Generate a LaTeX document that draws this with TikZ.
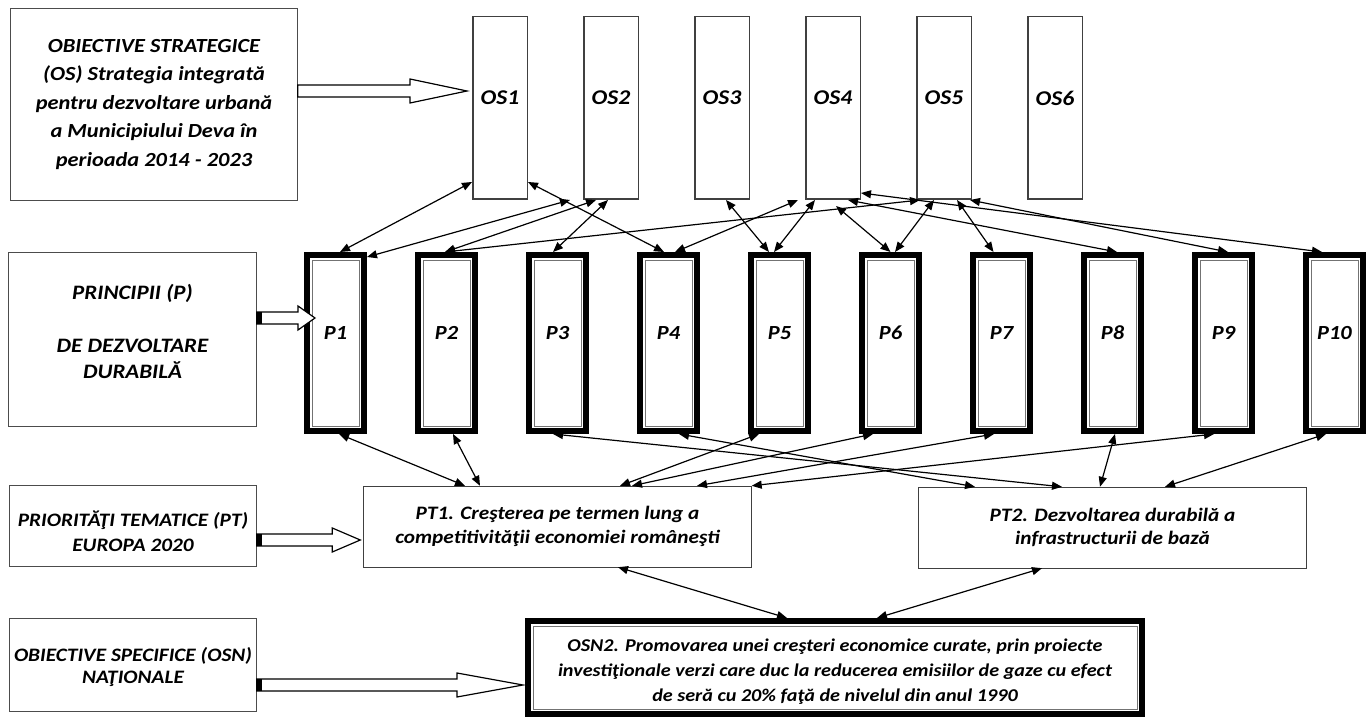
\documentclass[tikz,border=0pt]{standalone}
\usepackage{fontspec}
\setmainfont{Carlito}[FakeStretch=1.12]
\newcommand{\drawBlockArrow}[5]{\draw[blockarrow] ([xshift=#5]#2.west |- 0,#3) -- ++(-#4,-12) coordinate (h) -- ++(0,6) -- (#1.east |- 0,#3-6) -- ++(0,12) -- (h |- 0,#3+6) -- (h |- 0,#3+12) -- cycle;}
\newcommand{\drawArrowTail}[2]{\fill (#1.east |- 0,#2-6) rectangle ++(5,12);}
\newcommand{\drawInnerFrame}[1]{\draw[innerframe] ([shift={(8,8)}]#1.north west) rectangle ([shift={(-8,-8)}]#1.south east);}
\usetikzlibrary{arrows.meta, positioning}
\tikzset{>={Triangle[length=10pt,width=8pt]},
    node distance=111pt, line width=1.2pt,
    labelbox/.style={draw=black!70,align=center,font=\bfseries\itshape},
    osbox/.style={draw=black!75,line width=1.5pt,minimum width=54.5pt,minimum height=182.5pt,text depth=20pt,font=\bfseries\itshape\fontsize{21}{24}\selectfont},
    pbox/.style={draw,line width=6pt,minimum width=57pt,minimum height=176pt,text depth=20pt,font=\bfseries\itshape\fontsize{20}{24}\selectfont},
    ptbox/.style={draw=black!75,minimum width=388pt,minimum height=81pt,align=center,font=\bfseries\itshape\fontsize{19}{23.3}\selectfont},
    osnbox/.style={draw,line width=6pt,minimum width=614pt,minimum height=93pt,align=center,font=\bfseries\itshape\fontsize{18}{25}\selectfont},
    innerframe/.style={black!55,line width=0.8pt},
    link/.style={<->,line width=1.2pt},
    blockarrow/.style={draw,fill=white,line width=1.2pt}}
\begin{document}
\begin{tikzpicture}[x=1pt,y=-1pt]
\useasboundingbox (0,0) rectangle (1369,719);
% legend boxes on the left
\node[labelbox,minimum width=287pt,minimum height=192pt,font=\bfseries\itshape\fontsize{20}{28.5}\selectfont] (os) at (154,104.5)
    {OBIECTIVE STRATEGICE\\(OS) Strategia integrată\\pentru dezvoltare urbană\\a Municipiului Deva în\\perioada 2014 - 2023};
\node[labelbox,minimum width=248pt,minimum height=174pt,font=\bfseries\itshape\fontsize{20.5}{26.5}\selectfont] (p) at (132.5,339.5)
    {PRINCIPII (P)\\[26pt]DE DEZVOLTARE\\DURABILĂ\\[-10.5pt]\mbox{}};
\node[labelbox,minimum width=247pt,minimum height=81pt,font=\bfseries\itshape\fontsize{19}{25}\selectfont] (pt) at (133,526)
    {\mbox{}\\[2pt]PRIORITĂŢI TEMATICE (PT)\\EUROPA 2020};
\node[labelbox,minimum width=247pt,minimum height=93pt,font=\bfseries\itshape\fontsize{19}{22}\selectfont] (osn) at (133,665)
    {\mbox{}\\[-3pt]OBIECTIVE SPECIFICE (OSN)\\NAŢIONALE};
% strategic objectives
\node[osbox] (OS1) at (500,108) {OS1};
\node[osbox] (OS2) [right of=OS1] {OS2};
\node[osbox] (OS3) [right of=OS2] {OS3};
\node[osbox] (OS4) [right of=OS3] {OS4};
\node[osbox] (OS5) [right of=OS4] {OS5};
\node[osbox] (OS6) [right of=OS5] {OS6};
% principles
\node[pbox] (P1) at (335.5,343) {P1};
\node[pbox] (P2) [right of=P1] {P2};
\node[pbox] (P3) [right of=P2] {P3};
\node[pbox] (P4) [right of=P3] {P4};
\node[pbox] (P5) [right of=P4] {P5};
\node[pbox] (P6) [right of=P5] {P6};
\node[pbox] (P7) [right of=P6] {P7};
\node[pbox] (P8) [right of=P7] {P8};
\node[pbox] (P9) [right of=P8] {P9};
\node[pbox] (P10) [right of=P9] {P10};
\foreach \i in {1,...,10} {\drawInnerFrame{P\i}}
% thematic priorities and OSN2
\node[ptbox] (PT1) at (557.5,526.5) {PT1. Creşterea pe termen lung a\\competitivităţii economiei româneşti};
\node[ptbox] (PT2) at (1112.5,527.5) {PT2. Dezvoltarea durabilă a\\infrastructurii de bază};
\node[osnbox] (OSN2) at (835,667.5) {\mbox{}\\[-4pt]OSN2. Promovarea unei creşteri economice curate, prin proiecte\\investiţionale verzi care duc la reducerea emisiilor de gaze cu efect\\de seră cu 20\% faţă de nivelul din anul 1990};
\drawInnerFrame{OSN2}
% OS <-> P
\path[link]
    ([xshift=4.5pt]P1.north) edge ([yshift=-74pt]OS1.west)
    ([yshift=-5pt]P1.north east) edge ([xshift=-13pt]OS2.south west)
    ([xshift=-1.5pt]P2.north) edge ([xshift=-15pt]OS2.south)
    ([xshift=-1.5pt]P2.north) edge ([xshift=4pt]OS5.south west)
    ([xshift=-4.5pt]P3.north) edge ([xshift=-3pt]OS2.south)
    ([yshift=-74pt]OS1.east) edge ([xshift=-4.5pt]P4.north)
    ([xshift=-7pt]OS4.south west) edge ([xshift=6.5pt]P4.north)
    ([xshift=4pt]OS3.south) edge ([xshift=-10.5pt]P5.north)
    ([xshift=-18pt]OS4.south) edge ([xshift=-5.5pt]P5.north)
    ([xshift=3pt,yshift=-6pt]OS4.south) edge (P6.north)
    ([xshift=-10pt]OS5.south) edge ([xshift=4.5pt]P6.north)
    ([xshift=13pt]OS5.south) edge ([xshift=-8pt]P7.north)
    ([xshift=15pt]OS4.south) edge ([xshift=4.5pt]P8.north)
    ([xshift=-2pt]OS5.south east) edge ([xshift=4.5pt]P9.north)
    ([yshift=-85pt]OS4.east) edge ([xshift=-12.5pt]P10.north);
% P <-> PT
\path[link]
    ([xshift=3.5pt]P1.south) edge ([xshift=-92.5pt]PT1.north)
    ([xshift=6.5pt]P2.south) edge ([xshift=-77.5pt]PT1.north)
    ([xshift=-4.5pt]P3.south) edge ([xshift=-50.5pt]PT2.north)
    ([xshift=10.5pt]P4.south) edge ([xshift=-137.5pt]PT2.north)
    ([xshift=-20.5pt]P5.south) edge ([xshift=62.5pt]PT1.north)
    ([xshift=-17.5pt]P6.south) edge ([xshift=74.5pt]PT1.north)
    ([xshift=-7.5pt]P7.south) edge ([xshift=139.5pt]PT1.north)
    ([xshift=2.5pt]P8.south) edge ([xshift=-12.5pt]PT2.north)
    ([xshift=-9.5pt]P9.south) edge (PT1.north east)
    ([xshift=-8.5pt]P10.south) edge ([xshift=52.5pt]PT2.north);
% PT <-> OSN2
\path[link]
    ([xshift=60.5pt]PT1.south) edge ([xshift=-48pt]OSN2.north)
    ([xshift=-70.5pt]PT2.south) edge ([xshift=42pt]OSN2.north);
% block arrows from the legend boxes
\drawBlockArrow{os}{OS1}{91}{57}{-5pt}
\drawBlockArrow{p}{P1}{318}{17}{11pt}
\drawArrowTail{p}{318}
\drawBlockArrow{pt}{PT1}{540}{28}{-3pt}
\drawArrowTail{pt}{540}
\drawBlockArrow{osn}{OSN2}{685}{66}{-2pt}
\drawArrowTail{osn}{685}
\end{tikzpicture}
\end{document}
